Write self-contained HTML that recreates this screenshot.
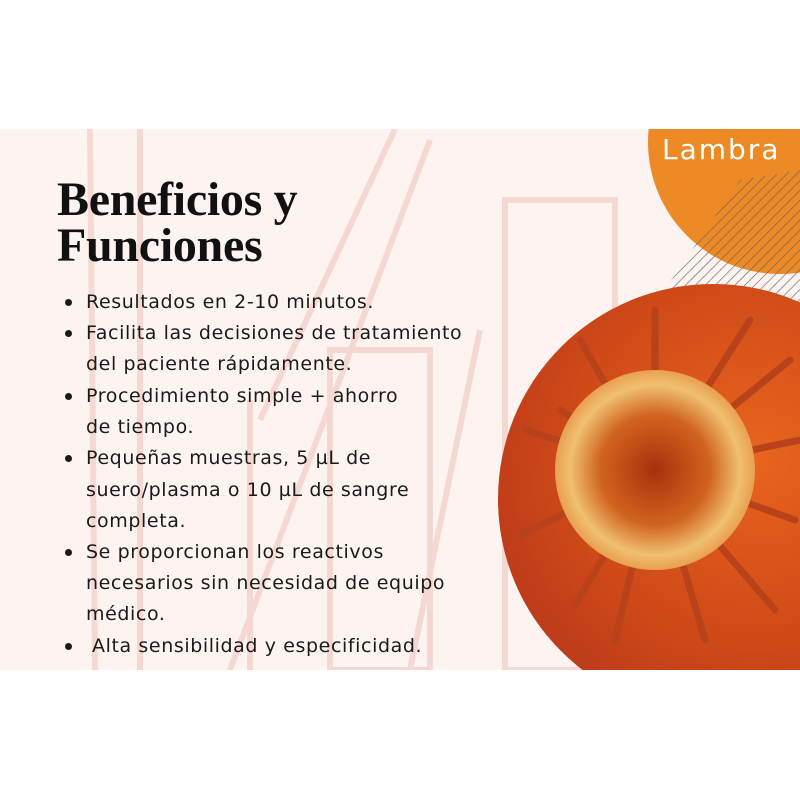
<!DOCTYPE html>
<html><head><meta charset="utf-8"><style>
html,body{margin:0;padding:0;background:#fff;}
#c{position:relative;width:800px;height:800px;overflow:hidden;background:#fff;}
.t{position:absolute;left:57px;font-family:"Liberation Serif",serif;font-weight:bold;font-size:48px;color:#111;letter-spacing:-0.3px;}
.l{position:absolute;left:86px;font-family:"DejaVu Sans","Liberation Sans",sans-serif;font-size:19px;letter-spacing:0.6px;color:#1a1a1a;white-space:nowrap;}
.b{position:absolute;left:65px;width:7px;height:7px;border-radius:50%;background:#1a1a1a;}
</style></head><body><div id="c">
<svg width="800" height="800" style="position:absolute;left:0;top:0">
<defs>
<clipPath id="band"><rect x="0" y="129" width="800" height="541"/></clipPath>
<pattern id="h" width="7" height="7" patternUnits="userSpaceOnUse" patternTransform="rotate(45)"><line x1="0" y1="0" x2="0" y2="7" stroke="#666" stroke-width="1.3"/></pattern>
<radialGradient id="bg" cx="0.6" cy="0.4" r="0.7"><stop offset="0" stop-color="#e8641e"/><stop offset="0.6" stop-color="#d04a18"/><stop offset="1" stop-color="#b8381a"/></radialGradient>
<radialGradient id="vb" cx="0.5" cy="0.5" r="0.5"><stop offset="0" stop-color="#a8300e"/><stop offset="0.55" stop-color="#d0641e"/><stop offset="0.85" stop-color="#f0c070"/><stop offset="1" stop-color="#e8a050"/></radialGradient>
</defs>
<g clip-path="url(#band)">
<rect x="0" y="129" width="800" height="541" fill="#fdf4f1"/>
<g stroke="#f6d6cf" stroke-width="6" fill="none" opacity="0.9">
<line x1="90" y1="129" x2="95" y2="670"/>
<line x1="140" y1="129" x2="140" y2="670"/>
<line x1="430" y1="140" x2="230" y2="670"/>
<line x1="395" y1="129" x2="260" y2="420"/>
<rect x="505" y="200" width="110" height="470"/>
<rect x="330" y="350" width="100" height="320"/>
<line x1="250" y1="400" x2="250" y2="670"/>
<line x1="480" y1="330" x2="410" y2="670"/>
</g>
<circle cx="780" cy="142" r="132" fill="#ed8a25"/>
<polygon points="740,180 800,170 800,302 740,298 663,292" fill="url(#h)"/>
<circle cx="713" cy="499" r="215" fill="url(#bg)"/>
<g stroke="#b8431a" stroke-width="7" stroke-linecap="round">
<line x1="655" y1="470" x2="655" y2="310"/><line x1="655" y1="470" x2="750" y2="320"/>
<line x1="655" y1="470" x2="790" y2="360"/><line x1="655" y1="470" x2="800" y2="440"/>
<line x1="655" y1="470" x2="795" y2="520"/><line x1="655" y1="470" x2="775" y2="610"/>
<line x1="655" y1="470" x2="705" y2="640"/><line x1="655" y1="470" x2="615" y2="640"/>
<line x1="655" y1="470" x2="575" y2="605"/><line x1="655" y1="470" x2="520" y2="535"/>
<line x1="655" y1="470" x2="525" y2="430"/><line x1="655" y1="470" x2="560" y2="410"/>
<line x1="655" y1="470" x2="580" y2="340"/>
</g>
<circle cx="655" cy="470" r="100" fill="url(#vb)"/>
</g>
<text x="662" y="159" font-family="DejaVu Sans,Liberation Sans,sans-serif" font-size="28" fill="#fff" letter-spacing="2">Lambra</text>
</svg>
<div class="t" style="top:172px">Beneficios y</div>
<div class="t" style="top:218px">Funciones</div>
<div class="b" style="top:299px"></div><div class="l" style="top:291px">Resultados en 2-10 minutos.</div>
<div class="b" style="top:330px"></div><div class="l" style="top:322px">Facilita las decisiones de tratamiento</div>
<div class="l" style="top:353px">del paciente rápidamente.</div>
<div class="b" style="top:393px"></div><div class="l" style="top:385px">Procedimiento simple + ahorro</div>
<div class="l" style="top:416px">de tiempo.</div>
<div class="b" style="top:455px"></div><div class="l" style="top:447px">Pequeñas muestras, 5 µL de</div>
<div class="l" style="top:479px">suero/plasma o 10 µL de sangre</div>
<div class="l" style="top:510px">completa.</div>
<div class="b" style="top:549px"></div><div class="l" style="top:541px">Se proporcionan los reactivos</div>
<div class="l" style="top:572px">necesarios sin necesidad de equipo</div>
<div class="l" style="top:603px">médico.</div>
<div class="b" style="top:643px"></div><div class="l" style="top:635px;left:92px">Alta sensibilidad y especificidad.</div>
</div></body></html>
